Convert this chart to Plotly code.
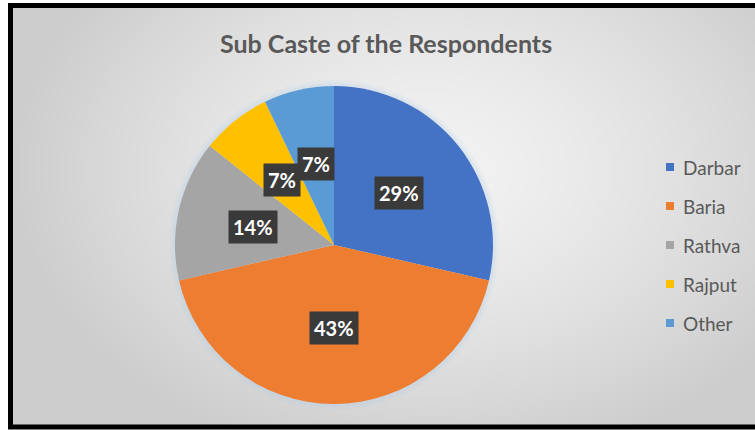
import base64
import struct
import zlib

import numpy as np
import plotly.graph_objects as go

# ---- data -------------------------------------------------------------
sub_castes = ["Darbar", "Baria", "Rathva", "Rajput", "Other"]
respondents = [4, 6, 2, 1, 1]
slice_colors = ["#4472C4", "#ED7D31", "#A5A5A5", "#FFC000", "#5B9BD5"]
chart_title = "Sub Caste of the Respondents"

# ---- canvas geometry (pixels) ------------------------------------------
W, H = 755, 430
CX, CY, R = 334, 245, 159          # pie centre and radius
FRAME = dict(left=10, top=5, bottom=427)


def px(x):
    return x / W


def py(y):
    return 1 - y / H


def png_uri(gray):
    """Encode a 2-D uint8 array as a grayscale PNG data URI."""
    h, w = gray.shape
    raw = b"".join(b"\x00" + gray[i].tobytes() for i in range(h))

    def chunk(tag, data):
        body = tag + data
        return (struct.pack(">I", len(data)) + body
                + struct.pack(">I", zlib.crc32(body) & 0xFFFFFFFF))

    png = (b"\x89PNG\r\n\x1a\n"
           + chunk(b"IHDR", struct.pack(">IIBBBBB", w, h, 8, 0, 0, 0, 0))
           + chunk(b"IDAT", zlib.compress(raw, 9))
           + chunk(b"IEND", b""))
    return "data:image/png;base64," + base64.b64encode(png).decode()


# soft radial background: light in the middle, grey toward the edges
bw, bh = (W - FRAME["left"]) // 2, (FRAME["bottom"] - FRAME["top"]) // 2
gx = np.linspace(FRAME["left"], W, bw)
gy = np.linspace(FRAME["top"], FRAME["bottom"], bh)
X, Y = np.meshgrid(gx, gy)
t = np.clip(np.sqrt(((X - 430) / 420) ** 2 + ((Y - 170) / 300) ** 2), 0, 1)
bg = (243 - (243 - 205) * t ** 1.4).astype(np.uint8)

fig = go.Figure()

fig.add_trace(go.Pie(
    labels=sub_castes,
    values=respondents,
    marker=dict(colors=slice_colors, line=dict(width=0)),
    sort=False,
    direction="clockwise",
    rotation=0,
    textinfo="none",
    hoverinfo="label+percent",
    showlegend=False,
    domain=dict(x=[px(CX - R), px(CX + R)], y=[py(CY + R), py(CY - R)]),
))

shapes = []
# faint glow around the pie
for grow, alpha in [(6, 0.10), (3, 0.18)]:
    shapes.append(dict(
        type="circle", xref="paper", yref="paper", layer="below",
        x0=px(CX - R - grow), x1=px(CX + R + grow),
        y0=py(CY + R + grow), y1=py(CY - R - grow),
        fillcolor=f"rgba(170,205,240,{alpha})", line=dict(width=0),
    ))
# black frame
shapes.append(dict(
    type="rect", xref="paper", yref="paper",
    x0=px(FRAME["left"] + 0.5), x1=px(W + 10),
    y0=py(FRAME["bottom"]), y1=py(FRAME["top"] + 0.5),
    line=dict(color="#000000", width=5), fillcolor="rgba(0,0,0,0)",
))

annotations = [dict(
    text=chart_title, xref="paper", yref="paper",
    x=px(386), y=py(43), xanchor="center", yanchor="middle",
    showarrow=False,
    font=dict(family="Lato", size=25, color="#595959", weight="bold"),
)]

# percentage callouts placed along each slice's mid-angle
total = sum(respondents)
cum = 0
for name, v in zip(sub_castes, respondents):
    mid = (cum + v / 2) / total * 2 * np.pi
    cum += v
    lx = CX + 0.52 * R * np.sin(mid)
    ly = CY - 0.52 * R * np.cos(mid)
    label = f"{round(100 * v / total)}%"
    annotations.append(dict(
        text=f"<b>{label}</b>", xref="paper", yref="paper",
        x=px(lx), y=py(ly), xanchor="center", yanchor="middle",
        showarrow=False,
        font=dict(family="Lato", size=20, color="#FFFFFF"),
        bgcolor="#3A3A3A", borderpad=4,
    ))

# legend entries, stacked and centred on the pie
LEG_X, LEG_STEP, SQ = 666, 39, 8
for i, (name, col) in enumerate(zip(sub_castes, slice_colors)):
    yc = CY + (i - (len(sub_castes) - 1) / 2) * LEG_STEP
    shapes.append(dict(
        type="rect", xref="paper", yref="paper",
        x0=px(LEG_X), x1=px(LEG_X + SQ),
        y0=py(yc + SQ / 2), y1=py(yc - SQ / 2),
        fillcolor=col, line=dict(width=0),
    ))
    annotations.append(dict(
        text=name, xref="paper", yref="paper",
        x=px(LEG_X + SQ + 7), y=py(yc), xanchor="left", yanchor="middle",
        showarrow=False,
        font=dict(family="Lato", size=19, color="#595959"),
    ))

fig.update_layout(
    width=W, height=H,
    margin=dict(l=0, r=0, t=0, b=0),
    paper_bgcolor="#FFFFFF",
    showlegend=False,
    shapes=shapes,
    annotations=annotations,
    images=[dict(
        source=png_uri(bg), xref="paper", yref="paper",
        x=px(FRAME["left"]), y=py(FRAME["top"]),
        sizex=px(W - FRAME["left"]), sizey=(FRAME["bottom"] - FRAME["top"]) / H,
        xanchor="left", yanchor="top", sizing="stretch", layer="below",
    )],
)

fig.write_html("out.html")
